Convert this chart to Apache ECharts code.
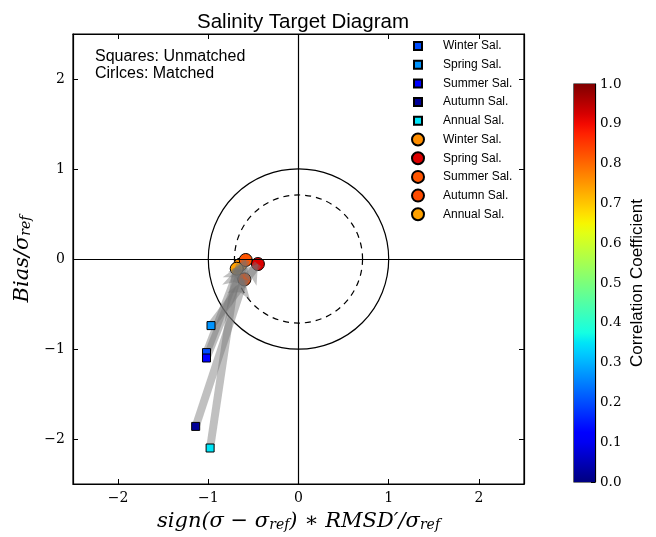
<!DOCTYPE html>
<html><head><meta charset="utf-8">
<script src="https://cdn.jsdelivr.net/npm/echarts@6/dist/echarts.min.js"></script>
<style>html,body{margin:0;padding:0;background:#fff}#c{width:656px;height:537px}</style>
</head><body><div id="c"></div>
<script>
// ---- data ----
const seasons = ['Winter Sal.', 'Spring Sal.', 'Summer Sal.', 'Autumn Sal.', 'Annual Sal.'];
const unmatchedX = [-1.02, -0.97, -1.02, -1.14, -0.98];
const unmatchedY = [-1.04, -0.74, -1.10, -1.86, -2.10];
const unmatchedR = [0.20, 0.27, 0.12, 0.02, 0.35];
const matchedX = [-0.645, -0.45, -0.585, -0.60, -0.685];
const matchedY = [-0.063, -0.056, -0.011, -0.226, -0.108];
const matchedR = [0.76, 0.92, 0.82, 0.83, 0.74];
const refCircles = [1.0, 0.71];          // solid, dashed
const axisTicks = [-2, -1, 0, 1, 2];
const cbTicks = [0, 0.1, 0.2, 0.3, 0.4, 0.5, 0.6, 0.7, 0.8, 0.9, 1.0];

// matplotlib jet colormap
const jetSeg = {
  r: [[0, 0], [0.35, 0], [0.66, 1], [0.89, 1], [1, 0.5]],
  g: [[0, 0], [0.125, 0], [0.375, 1], [0.64, 1], [0.91, 0], [1, 0]],
  b: [[0, 0.5], [0.11, 1], [0.34, 1], [0.65, 0], [1, 0]]
};
function seg(pts, t){
  for (let k = 1; k < pts.length; k++) {
    if (t <= pts[k][0]) {
      const a = pts[k-1], b = pts[k];
      return a[1] + (b[1] - a[1]) * (t - a[0]) / (b[0] - a[0]);
    }
  }
  return pts[pts.length-1][1];
}
function jet(t){
  return 'rgb(' + Math.round(seg(jetSeg.r, t)*255) + ',' + Math.round(seg(jetSeg.g, t)*255) + ',' + Math.round(seg(jetSeg.b, t)*255) + ')';
}
const fmt = v => v < 0 ? '\u2212' + Math.abs(v) : String(v);
const serif = 'DejaVu Serif';
const sans = 'Liberation Sans';

const chart = echarts.init(document.getElementById('c'), null, {renderer: 'canvas'});

const series = [];
// reference circles
series.push({
  type: 'custom', xAxisIndex: 0, yAxisIndex: 0, silent: true, z: 1,
  data: refCircles.map((r, i) => [r, i]),
  encode: {x: 0, y: 1},
  renderItem: function(params, api){
    const c = api.coord([0, 0]);
    const rad = api.size([api.value(0), 0])[0];
    return {type: 'circle', shape: {cx: c[0], cy: c[1], r: rad},
      style: {fill: 'none', stroke: '#000', lineWidth: 1.2, lineDash: api.value(1) ? [6, 5] : null}};
  },
  markLine: {silent: true, symbol: 'none', label: {show: false},
    lineStyle: {color: '#000', type: 'solid', width: 1.2},
    data: [{xAxis: 0}, {yAxis: 0}]}
});
// arrows
series.push({
  type: 'lines', coordinateSystem: 'cartesian2d', xAxisIndex: 0, yAxisIndex: 0, z: 3, silent: true,
  symbol: ['none', 'arrow'], symbolSize: 18,
  lineStyle: {color: 'rgba(115,115,115,0.45)', width: 8, opacity: 1},
  data: seasons.map((s, i) => ({coords: [[unmatchedX[i], unmatchedY[i]], [matchedX[i], matchedY[i]]]}))
});
const sqIcon = 'path://M0,0M12,12M2,2L10,2L10,10L2,10Z';
seasons.forEach((s, i) => {
  series.push({
    type: 'scatter', name: s, xAxisIndex: 0, yAxisIndex: 0, z: 4,
    symbol: 'rect', symbolSize: 8,
    itemStyle: {color: jet(unmatchedR[i]), borderColor: '#000', borderWidth: 1, opacity: 1},
    data: [[unmatchedX[i], unmatchedY[i]]]
  });
});
seasons.forEach((s, i) => {
  series.push({
    type: 'scatter', name: s + ' ', xAxisIndex: 0, yAxisIndex: 0, z: 2,
    symbol: 'circle', symbolSize: 13,
    itemStyle: {color: jet(matchedR[i]), borderColor: '#000', borderWidth: 1, opacity: 1},
    data: [[matchedX[i], matchedY[i]]]
  });
});
// colorbar
const stops = [];
for (let k = 0; k <= 40; k++) stops.push({offset: k/40, color: jet(k/40)});
series.push({
  type: 'bar', xAxisIndex: 2, yAxisIndex: 2, silent: true, barWidth: '100%',
  data: [1],
  itemStyle: {color: new echarts.graphic.LinearGradient(0, 1, 0, 0, stops)}
});

const legendData = seasons.map(s => ({name: s, icon: sqIcon}))
  .concat(seasons.map(s => ({name: s + ' ', icon: 'circle'})));

const mainAxisCommon = {
  type: 'value', min: -2.5, max: 2.5,
  splitLine: {show: false},
  axisLine: {show: true, onZero: false, lineStyle: {color: '#000', width: 1.2}},
  axisTick: {show: true, inside: true, length: 5, customValues: axisTicks, lineStyle: {color: '#000'}},
};
const richName = {
  i: {fontFamily: serif, fontStyle: 'italic', fontSize: 21, color: '#000', verticalAlign: 'bottom'},
  s: {fontFamily: serif, fontStyle: 'italic', fontSize: 14, color: '#000', verticalAlign: 'bottom', padding: [8, 0, 0, 0]}
};

const option = {
  animation: false,
  backgroundColor: '#fff',
  title: {text: 'Salinity Target Diagram', left: 298, top: 7, textAlign: 'center',
    textStyle: {fontFamily: sans, fontSize: 20.5, fontWeight: 'normal', color: '#000'}},
  grid: [
    {left: 73, top: 34, width: 451, height: 450, show: true, borderColor: '#000', borderWidth: 1.2,
      backgroundColor: 'transparent', outerBoundsMode: 'none', containLabel: false},
    {left: 574, top: 84, width: 21, height: 398, show: true, borderColor: '#000', borderWidth: 1.2,
      outerBoundsMode: 'none', containLabel: false}
  ],
  legend: {
    data: legendData, orient: 'vertical', left: 411, top: 39, padding: 0,
    itemWidth: 12, itemHeight: 12, itemGap: 4.7,
    textStyle: {fontFamily: sans, fontSize: 12, color: '#000', padding: [0, 0, 0, 14]},
    selectedMode: false
  },
  xAxis: [
    Object.assign({}, mainAxisCommon, {gridIndex: 0, position: 'bottom',
      axisLabel: {customValues: axisTicks, formatter: fmt, fontFamily: serif, fontSize: 14, color: '#000', margin: 7},
      name: '{i|sign(σ − σ}{s|ref}{i|) ∗ RMSD′/σ}{s|ref}', nameLocation: 'middle', nameGap: 26,
      nameTextStyle: {rich: richName}}),
    Object.assign({}, mainAxisCommon, {gridIndex: 0, position: 'top', axisLabel: {show: false}}),
    {gridIndex: 1, type: 'category', data: [''], show: false}
  ],
  yAxis: [
    Object.assign({}, mainAxisCommon, {gridIndex: 0, position: 'left',
      axisLabel: {customValues: axisTicks, formatter: fmt, fontFamily: serif, fontSize: 14, color: '#000', margin: 8},
      name: '{i|Bias/σ}{s|ref}', nameLocation: 'middle', nameGap: 24, nameRotate: 90,
      nameTextStyle: {rich: richName}}),
    Object.assign({}, mainAxisCommon, {gridIndex: 0, position: 'right', axisLabel: {show: false}}),
    {gridIndex: 1, type: 'value', position: 'right', min: 0, max: 1, interval: 0.1,
      splitLine: {show: false},
      axisLine: {show: true, lineStyle: {color: '#000', width: 1.2}},
      axisTick: {show: true, inside: true, length: 4, customValues: cbTicks, lineStyle: {color: '#000'}},
      axisLabel: {customValues: cbTicks, formatter: v => v.toFixed(1), fontFamily: serif, fontSize: 13.5, color: '#000', margin: 5},
      name: 'Correlation Coefficient', nameLocation: 'middle', nameRotate: 90, nameGap: 34,
      nameTextStyle: {fontFamily: sans, fontSize: 17, color: '#000'}}
  ],
  graphic: [
    {type: 'text', left: 95, top: 48, style: {text: 'Squares: Unmatched\nCirlces: Matched', font: '16px "Liberation Sans"', fill: '#000', lineHeight: 17}}
  ],
  series: series
};
chart.setOption(option);
</script></body></html>
